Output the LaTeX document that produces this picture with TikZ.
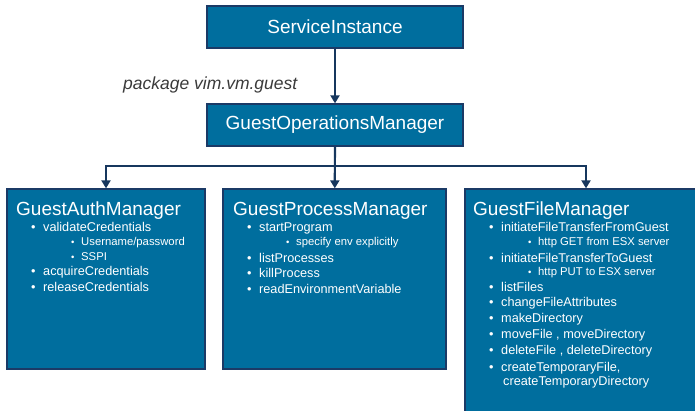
\documentclass[tikz,border=0pt]{standalone}
\usepackage{fontspec}
\setmainfont{Liberation Sans}
\usetikzlibrary{arrows.meta}
\definecolor{boxfill}{HTML}{006E9E}
\definecolor{boxedge}{HTML}{1B3A66}
\definecolor{linkcol}{HTML}{17375E}
\definecolor{notecol}{HTML}{3A3A3A}
\newcommand{\bltA}{\makebox[12pt][l]{•}}
\newcommand{\bltB}{\makebox[10pt][l]{\fontsize{9.5}{10}\selectfont •}}
\tikzset{
  objbox/.style={draw=boxedge, line width=1.3pt, fill=boxfill, inner sep=0pt,
    text=white, font=\fontsize{19}{19}\selectfont},
  headtxt/.style={anchor=base west, inner sep=0pt, text=white, font=\fontsize{19}{19}\selectfont},
  itemA/.style={anchor=base west, inner sep=0pt, text=white, font=\fontsize{12.7}{13}\selectfont},
  itemB/.style={anchor=base west, inner sep=0pt, text=white, font=\fontsize{11.3}{12}\selectfont},
  link/.style={draw=linkcol, line width=2.2pt, -{Triangle[width=9pt,length=8pt]}},
  plain/.style={draw=linkcol, line width=2.2pt}
}
\begin{document}
\begin{tikzpicture}[x=1pt,y=-1pt]
\clip (0,0) rectangle (695,411);
\useasboundingbox (0,0) rectangle (695,411);

% top level objects
\node[objbox, minimum width=256pt, minimum height=42pt] (si) at (335,27) {ServiceInstance};
\node[objbox, minimum width=256pt, minimum height=42pt] (gom) at (335,125) {GuestOperationsManager};
\node[anchor=base west, inner sep=0pt, text=notecol, font=\fontsize{17.5}{18}\selectfont\itshape]
  (pkg) at (123,90) {package vim.vm.guest};

% manager boxes
\node[objbox, minimum width=198pt, minimum height=180pt] (auth) at (106,279) {};
\node[objbox, minimum width=223pt, minimum height=180pt] (proc) at (334.5,279) {};
\node[objbox, minimum width=242pt, minimum height=240pt] (file) at (586,309) {};

% connectors
\draw[link] (si) -- (gom);
\draw[link] (gom) -- (proc);
\coordinate (bus) at (335,166);
\draw[link] (bus) -| (auth);
\draw[link] (bus) -| (file);

% GuestAuthManager
\node[headtxt] (authh) at (16,216) {GuestAuthManager};
\node[itemA] (a1) at (31,232) {\bltA validateCredentials};
\node[itemB] (a2) at (71,246) {\bltB Username/password};
\node[itemB] (a3) at (71,261) {\bltB SSPI};
\node[itemA] (a4) at (31,275.5) {\bltA acquireCredentials};
\node[itemA] (a5) at (31,291) {\bltA releaseCredentials};

% GuestProcessManager
\node[headtxt] (proch) at (233,216) {GuestProcessManager};
\node[itemA] (p1) at (247,232) {\bltA startProgram};
\node[itemB] (p2) at (286,246) {\bltB specify env explicitly};
\node[itemA] (p3) at (247,262) {\bltA listProcesses};
\node[itemA] (p4) at (247,277) {\bltA killProcess};
\node[itemA] (p5) at (247,293) {\bltA readEnvironmentVariable};

% GuestFileManager
\node[headtxt] (fileh) at (473,216) {GuestFileManager};
\node[itemA] (f1) at (489,232) {\bltA initiateFileTransferFromGuest};
\node[itemB] (f2) at (528,246) {\bltB http GET from ESX server};
\node[itemA] (f3) at (489,262) {\bltA initiateFileTransferToGuest};
\node[itemB] (f4) at (528,276) {\bltB http PUT to ESX server};
\node[itemA] (f5) at (489,291) {\bltA listFiles};
\node[itemA] (f6) at (489,306) {\bltA changeFileAttributes};
\node[itemA] (f7) at (489,322) {\bltA makeDirectory};
\node[itemA] (f8) at (489,338) {\bltA moveFile , moveDirectory};
\node[itemA] (f9) at (489,354) {\bltA deleteFile , deleteDirectory};
\node[itemA] (f10) at (489,371) {\bltA createTemporaryFile,};
\node[itemA] (f11) at (503,385) {createTemporaryDirectory};
\end{tikzpicture}
\end{document}
